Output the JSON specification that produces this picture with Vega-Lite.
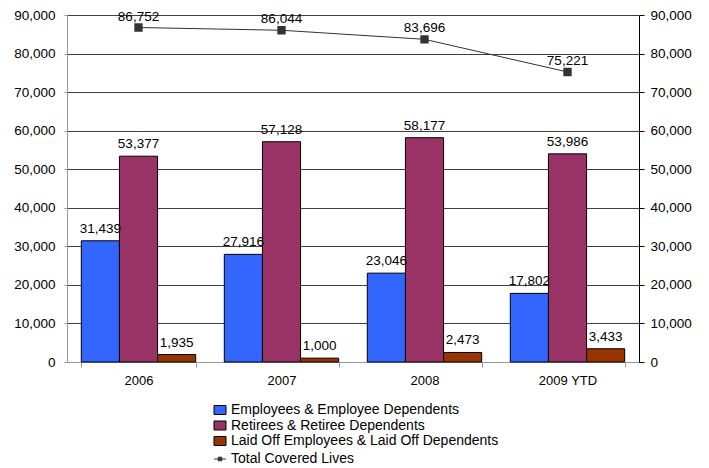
{
  "$schema": "https://vega.github.io/schema/vega-lite/v6.json",
  "width": 572,
  "height": 347,
  "autosize": "none",
  "padding": {"left": 67, "top": 15, "right": 70, "bottom": 106},
  "config": {
    "font": "Liberation Sans",
    "view": {"stroke": null},
    "axis": {"labelFont": "Liberation Sans", "labelFontSize": 13.5, "labelColor": "#000000"}
  },
  "datasets": {
    "bars": [
      {"year": "2006", "series": "Employees & Employee Dependents", "value": 31439},
      {"year": "2006", "series": "Retirees & Retiree Dependents", "value": 53377},
      {"year": "2006", "series": "Laid Off Employees & Laid Off Dependents", "value": 1935},
      {"year": "2007", "series": "Employees & Employee Dependents", "value": 27916},
      {"year": "2007", "series": "Retirees & Retiree Dependents", "value": 57128},
      {"year": "2007", "series": "Laid Off Employees & Laid Off Dependents", "value": 1000},
      {"year": "2008", "series": "Employees & Employee Dependents", "value": 23046},
      {"year": "2008", "series": "Retirees & Retiree Dependents", "value": 58177},
      {"year": "2008", "series": "Laid Off Employees & Laid Off Dependents", "value": 2473},
      {"year": "2009 YTD", "series": "Employees & Employee Dependents", "value": 17802},
      {"year": "2009 YTD", "series": "Retirees & Retiree Dependents", "value": 53986},
      {"year": "2009 YTD", "series": "Laid Off Employees & Laid Off Dependents", "value": 3433}
    ],
    "total": [
      {"year": "2006", "series": "Total Covered Lives", "value": 86752},
      {"year": "2007", "series": "Total Covered Lives", "value": 86044},
      {"year": "2008", "series": "Total Covered Lives", "value": 83696},
      {"year": "2009 YTD", "series": "Total Covered Lives", "value": 75221}
    ]
  },
  "encoding": {
    "x": {
      "field": "year", "type": "nominal", "sort": null,
      "scale": {"paddingInner": 0.2, "paddingOuter": 0.1},
      "axis": {"title": null, "labelAngle": 0, "labelFontSize": 13, "domainColor": "#999999", "tickColor": "#999999", "tickBand": "extent", "tickSize": 5, "labelPadding": 7, "grid": false}
    }
  },
  "layer": [
    {
      "data": {"name": "bars"},
      "mark": {"type": "bar", "stroke": "#000000", "strokeWidth": 1},
      "encoding": {
        "xOffset": {"field": "series", "type": "nominal", "sort": null, "scale": {"paddingInner": 0, "paddingOuter": 0}},
        "y": {
          "field": "value", "type": "quantitative",
          "scale": {"domain": [0, 90000], "nice": false},
          "axis": {"title": null, "orient": "left", "tickCount": 9, "format": ",d", "grid": true, "gridColor": "#404040", "gridWidth": 1, "domainColor": "#999999", "ticks": true, "tickSize": 3, "tickColor": "#999999", "labelPadding": 9}
        },
        "color": {
          "field": "series", "type": "nominal", "sort": null,
          "scale": {"domain": ["Employees & Employee Dependents", "Retirees & Retiree Dependents", "Laid Off Employees & Laid Off Dependents"], "range": ["#3366FF", "#993366", "#993300"]},
          "legend": {"title": null, "orient": "none", "legendX": 146, "legendY": 388, "symbolType": "M-1,-0.75H1V0.75H-1Z", "symbolSize": 144, "symbolStrokeColor": "#000000", "symbolStrokeWidth": 1, "symbolOpacity": 1, "labelFontSize": 14, "labelFont": "Liberation Sans", "labelColor": "#000000", "labelLimit": 0, "rowPadding": 1.5, "labelOffset": 4, "padding": 0}
        }
      }
    },
    {
      "data": {"name": "bars"},
      "mark": {"type": "text", "baseline": "bottom", "dy": -5, "fontSize": 13.5, "color": "#000000"},
      "encoding": {
        "xOffset": {"field": "series", "type": "nominal", "sort": null, "scale": {"paddingInner": 0, "paddingOuter": 0}},
        "y": {"field": "value", "type": "quantitative", "scale": {"domain": [0, 90000], "nice": false}, "axis": null},
        "text": {"field": "value", "type": "quantitative", "format": ",d"}
      }
    },
    {
      "data": {"name": "total"},
      "mark": {"type": "line", "strokeWidth": 1, "point": {"shape": "square", "filled": true, "size": 40, "color": "#333333"}},
      "encoding": {
        "y": {
          "field": "value", "type": "quantitative",
          "scale": {"domain": [0, 90000], "nice": false},
          "axis": {"title": null, "orient": "right", "tickCount": 9, "format": ",d", "grid": false, "domainColor": "#000000", "tickColor": "#000000", "tickSize": 5, "labelPadding": 6}
        },
        "stroke": {
          "field": "series", "type": "nominal",
          "scale": {"range": ["#333333"]},
          "legend": {"title": null, "orient": "none", "legendX": 146, "legendY": 437, "symbolType": "M-1,0H1M-0.3,-0.3H0.3V0.3H-0.3Z", "symbolSize": 144, "symbolFillColor": "#333333", "symbolStrokeWidth": 1, "labelFontSize": 14, "labelFont": "Liberation Sans", "labelColor": "#000000", "labelLimit": 0, "labelOffset": 4, "padding": 0}
        }
      }
    },
    {
      "data": {"name": "total"},
      "mark": {"type": "text", "baseline": "bottom", "dy": -4, "fontSize": 13.5, "color": "#000000"},
      "encoding": {
        "y": {"field": "value", "type": "quantitative", "scale": {"domain": [0, 90000], "nice": false}, "axis": null},
        "text": {"field": "value", "type": "quantitative", "format": ",d"}
      }
    }
  ],
  "resolve": {"scale": {"y": "independent"}}
}
